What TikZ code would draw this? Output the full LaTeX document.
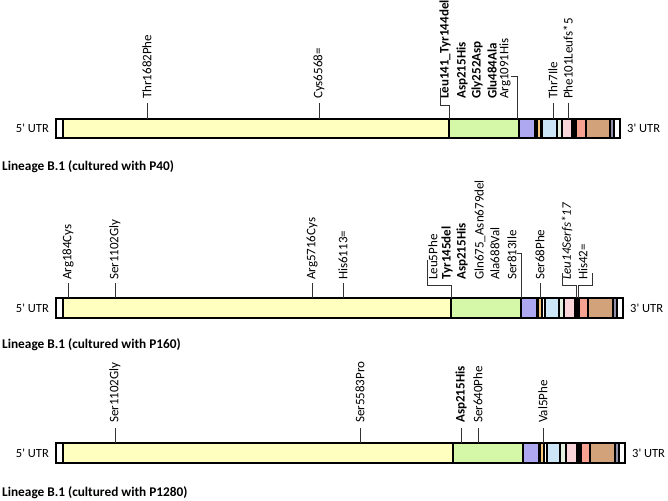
\documentclass[tikz,border=0pt]{standalone}
\usepackage{fontspec}
\setmainfont{Carlito}
\definecolor{cyel}{HTML}{FFFFC0}
\definecolor{cgrn}{HTML}{D4F7A8}
\definecolor{cpur}{HTML}{ADA8F0}
\definecolor{corg}{HTML}{F7C77C}
\definecolor{cblu}{HTML}{CDE6F7}
\definecolor{cpgr}{HTML}{E3F0E0}
\definecolor{cpnk}{HTML}{F9D5DA}
\definecolor{csal}{HTML}{F7A291}
\definecolor{cbrn}{HTML}{D2A27B}
\definecolor{cgry}{HTML}{8F8FA8}
\begin{document}
\begin{tikzpicture}[x=1pt,y=-1pt,
  lbl/.style={rotate=90,anchor=west,inner sep=0pt,font=\fontsize{13}{15}\selectfont},
  lblb/.style={lbl,font=\fontsize{13}{15}\selectfont\bfseries},
  lbli/.style={lbl,font=\fontsize{13}{15}\selectfont\itshape},
  tick/.style={draw=black!80,line width=0.8pt},
  segline/.style={draw=black,line width=1.2pt},
  bandframe/.style={draw=black,line width=1.8pt},
  utr/.style={font=\fontsize{12.5}{14}\selectfont,inner sep=0pt},
  ttl/.style={font=\fontsize{13.3}{15}\selectfont\bfseries,anchor=west,inner sep=0pt}]
\useasboundingbox[fill=white] (0,0) rectangle (668,500);

% ---------------- Band 1 ----------------
\fill[white] (56,119) rectangle (620,138);
\foreach \a/\b/\c in {56/63/white,63/449/cyel,449/519/cgrn,519/535/cpur,537/541/corg,542/557/cblu,557/562/cpgr,562/572/cpnk,574/576/white,576/586/csal,586/610/cbrn,610/614/cgry,614/620/white}
  \filldraw[segline,fill=\c] (\a,119) rectangle (\b,138);
\draw[bandframe] (56,119) rectangle (620,138);
\coordinate (b1) at (0,119);
\node[utr,anchor=east] (u5a) at (49,128.5) {5\textquotesingle{} UTR};
\node[utr,anchor=west] (u3a) at (627,128.5) {3\textquotesingle{} UTR};

\node[lbl] (a1) at (147,99) {Thr1682Phe};
\node[lbl] (a2) at (319,99) {Cys6568=};
\node[lblb] (a3) at (445,99) {Leu141\_Tyr144del};
\node[lblb] (a4) at (462,99) {Asp215His};
\node[lblb] (a5) at (477,99) {Gly252Asp};
\node[lblb] (a6) at (492,99) {Glu484Ala};
\node[lbl] (a7) at (505,99) {Arg1091His};
\node[lbl] (a8) at (553,99) {Thr7Ile};
\node[lbl] (a9) at (568,99) {Phe101Leufs*5};

\draw[tick] (a1.west) ++(0,4) -- (a1.west |- b1);
\draw[tick] (a2.west) ++(0,4) -- (a2.west |- b1);
\draw[tick] (a8.west) ++(0,4) -- (a8.west |- b1);
\draw[tick] (a9.west) ++(0,4) -- (a9.west |- b1);
\coordinate (a3t) at (440,88);
\coordinate (a3c) at (449,105);
\draw[tick] (a3t) |- (a3c) -- (a3c |- b1);
\coordinate (a7t) at (511,76);
\coordinate (a7c) at (517,76);
\draw[tick] (a7t) -- (a7c) -- (a7c |- b1);

\node[ttl] (t1) at (2,167) {Lineage B.1 (cultured with P40)};

% ---------------- Band 2 ----------------
\fill[white] (56,298) rectangle (623,318);
\foreach \a/\b/\c in {56/63/white,63/451/cyel,451/521/cgrn,521/537/cpur,538/542/corg,545/559/cblu,559/564/cpgr,564/575/cpnk,577/579/white,579/588/csal,588/613/cbrn,613/617/cgry,617/623/white}
  \filldraw[segline,fill=\c] (\a,298) rectangle (\b,318);
\draw[bandframe] (56,298) rectangle (623,318);
\coordinate (b2) at (0,298);
\node[utr,anchor=east] (u5b) at (49,308.5) {5\textquotesingle{} UTR};
\node[utr,anchor=west] (u3b) at (630,308.5) {3\textquotesingle{} UTR};

\node[lbl] (m1) at (68,280) {Arg184Cys};
\node[lbl] (m2) at (115,280) {Ser1102Gly};
\node[lbl] (m3) at (312,280) {Arg5716Cys};
\node[lbl] (m4) at (343,280) {His6113=};
\node[lbl] (m5) at (433,280) {Leu5Phe};
\node[lblb] (m6) at (447,280) {Tyr145del};
\node[lblb] (m7) at (462,280) {Asp215His};
\node[lbl] (m8) at (480,280) {Gln675\_Asn679del};
\node[lbl] (m9) at (495,280) {Ala688Val};
\node[lbl] (m10) at (512,280) {Ser813Ile};
\node[lbl] (m11) at (540,280) {Ser68Phe};
\node[lbli] (m12) at (567,280) {Leu14Serfs*17};
\node[lbl] (m13) at (583,280) {His42=};

\draw[tick] (m1.west) ++(0,3) -- (m1.west |- b2);
\draw[tick] (m2.west) ++(0,3) -- (m2.west |- b2);
\draw[tick] (m3.west) ++(0,3) -- (m3.west |- b2);
\draw[tick] (m4.west) ++(0,3) -- (m4.west |- b2);
\draw[tick] (m11.west) ++(0,3) -- (m11.west |- b2);
\coordinate (m5t) at (427,260);
\coordinate (m5c) at (451,285);
\draw[tick] (m5t) |- (m5c) -- (m5c |- b2);
\coordinate (m10t) at (517,253);
\coordinate (m10c) at (521,253);
\draw[tick] (m10t) -- (m10c) -- (m10c |- b2);
\coordinate (m12t) at (562,273);
\coordinate (m12c) at (576,285);
\draw[tick] (m12t) |- (m12c) -- (m12c |- b2);
\coordinate (m13t) at (592,273);
\coordinate (m13c) at (578,285);
\draw[tick] (m13t) |- (m13c) -- (m13c |- b2);

\node[ttl] (t2) at (2,345) {Lineage B.1 (cultured with P160)};

% ---------------- Band 3 ----------------
\fill[white] (56,443) rectangle (625,463);
\foreach \a/\b/\c in {56/63/white,63/453/cyel,453/523/cgrn,523/539/cpur,540/544/corg,547/560/cblu,560/566/cpgr,566/577/cpnk,579/581/white,581/590/csal,590/615/cbrn,615/619/cgry,619/625/white}
  \filldraw[segline,fill=\c] (\a,443) rectangle (\b,463);
\draw[bandframe] (56,443) rectangle (625,463);
\coordinate (b3) at (0,443);
\node[utr,anchor=east] (u5c) at (49,453.5) {5\textquotesingle{} UTR};
\node[utr,anchor=west] (u3c) at (632,453.5) {3\textquotesingle{} UTR};

\node[lbl] (c1) at (115,423) {Ser1102Gly};
\node[lbl] (c2) at (360,423) {Ser5583Pro};
\node[lblb] (c3) at (461,423) {Asp215His};
\node[lbl] (c4) at (478,423) {Ser640Phe};
\node[lbl] (c5) at (543,423) {Val5Phe};
\foreach \n in {c1,c2,c3,c4,c5}
  \draw[tick] (\n.west) ++(0,5) -- (\n.west |- b3);

\node[ttl] (t3) at (2,493) {Lineage B.1 (cultured with P1280)};
\end{tikzpicture}
\end{document}
